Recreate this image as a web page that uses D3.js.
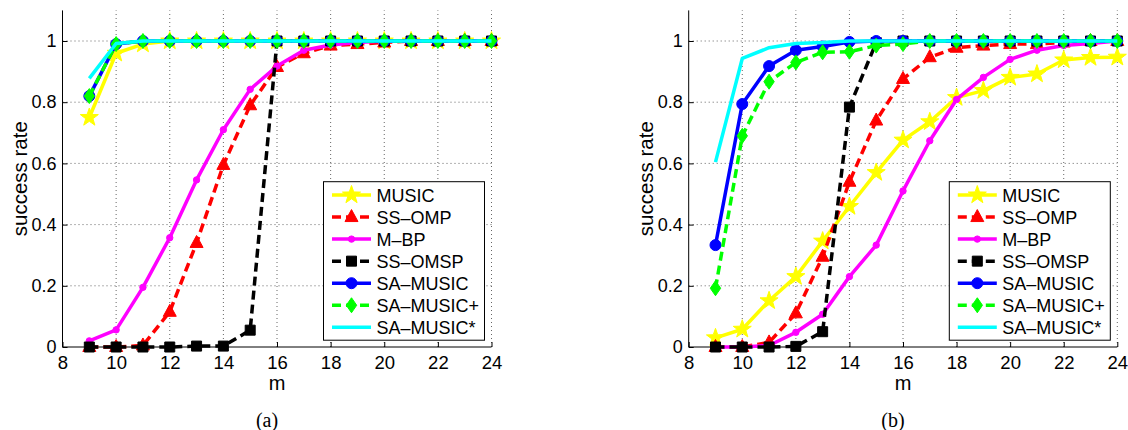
<!DOCTYPE html>
<html><head><meta charset="utf-8">
<script src="https://cdn.jsdelivr.net/npm/d3@7"></script>
<style>body{margin:0;background:#fff}svg{display:block}</style>
</head><body>
<svg id="chart" width="1128" height="430"></svg>
<script>
const mValues = [9,10,11,12,13,14,15,16,17,18,19,20,21,22,23,24];
const seriesNames = ["MUSIC","SS–OMP","M–BP","SS–OMSP","SA–MUSIC","SA–MUSIC+","SA–MUSIC*"];
const xTicks = [8,10,12,14,16,18,20,22,24];
const yTicks = [0,0.2,0.4,0.6,0.8,1];
const yTickLabels = ["0","0.2","0.4","0.6","0.8","1"];

// panel (a)
const aMUSIC   = [0.75,0.96,0.99,1,1,1,1,1,1,1,1,1,1,1,1,1];
const aSSOMP   = [0,0,0.005,0.115,0.34,0.595,0.79,0.915,0.96,0.985,0.99,0.995,1,1,1,1];
const aMBP     = [0.02,0.056,0.195,0.357,0.546,0.71,0.842,0.918,0.97,0.987,0.995,1,1,1,1,1];
const aSSOMSP  = [0,0,0,0,0.003,0.003,0.055,1,1,1,1,1,1,1,1,1];
const aSAMUSIC = [0.82,0.99,1,1,1,1,1,1,1,1,1,1,1,1,1,1];
const aSAMUSICp= [0.82,0.99,1,1,1,1,1,1,1,1,1,1,1,1,1,1];
const aSAMUSICs= [0.878,0.992,1,1,1,1,1,1,1,1,1,1,1,1,1,1];

// panel (b)
const bMUSIC   = [0.03,0.058,0.151,0.23,0.346,0.459,0.57,0.676,0.736,0.815,0.838,0.881,0.892,0.938,0.946,0.947];
const bSSOMP   = [0,0,0.015,0.11,0.295,0.54,0.74,0.876,0.947,0.978,0.985,0.99,0.99,0.995,1,1];
const bMBP     = [0,0,0.005,0.048,0.107,0.23,0.333,0.51,0.674,0.809,0.881,0.94,0.97,0.985,0.992,1];
const bSSOMSP  = [0,0,0,0.002,0.05,0.784,0.995,1,1,1,1,1,1,1,1,1];
const bSAMUSIC = [0.333,0.794,0.918,0.97,0.982,0.997,1,1,1,1,1,1,1,1,1,1];
const bSAMUSICp= [0.192,0.69,0.867,0.93,0.963,0.965,0.985,0.99,1,1,1,1,1,1,1,1];
const bSAMUSICs= [0.604,0.943,0.978,0.992,0.995,1,1,1,1,1,1,1,1,1,1,1];

const colors = ["#ffff00","#ff0000","#ff00ff","#000000","#0000ff","#00ff00","#00ffff"];
const dashes = [null,"9,5",null,"9,5",null,"9,5",null];
const markers = ["star","triangle","dot","square","circle","diamond",null];

function markerPath(type){
  if(type==="star"){
    const R=9.5, r=3.8; let p=[];
    for(let i=0;i<10;i++){const a=-Math.PI/2+i*Math.PI/5; const rr=i%2?r:R; p.push([rr*Math.cos(a), rr*Math.sin(a)]);}
    return "M"+p.map(d=>d.join(",")).join("L")+"Z";
  }
  if(type==="triangle") return "M0,-7.5L6.5,4.5L-6.5,4.5Z";
  if(type==="square") return "M-5,-5L5,-5L5,5L-5,5Z";
  if(type==="diamond") return "M0,-7.5L5.2,0L0,7.5L-5.2,0Z";
  if(type==="circle") return d3.symbol(d3.symbolCircle, Math.PI*5.5*5.5)();
  if(type==="dot") return d3.symbol(d3.symbolCircle, Math.PI*3.2*3.2)();
  return null;
}

const svg = d3.select("#chart");
const FONT = "'Liberation Sans', Arial, Helvetica, sans-serif";

function panel(x0, x1, data, caption){
  const x = d3.scaleLinear().domain([8,24]).range([x0,x1]);
  const y = d3.scaleLinear().domain([0,1.1]).range([347,10.4]);
  const g = svg.append("g");

  // grid
  g.append("g").selectAll("line").data(xTicks.filter(t=>t>8)).join("line")
    .attr("x1",d=>x(d)).attr("x2",d=>x(d)).attr("y1",y(0)).attr("y2",y(1.1))
    .attr("stroke","#666").attr("stroke-width",1).attr("stroke-dasharray","1,3");
  g.append("g").selectAll("line").data(yTicks.filter(t=>t>0)).join("line")
    .attr("x1",x(8)).attr("x2",x(24)).attr("y1",d=>y(d)).attr("y2",d=>y(d))
    .attr("stroke","#666").attr("stroke-width",1).attr("stroke-dasharray","1,3");

  // axes
  const xAxis = d3.axisBottom(x).tickValues(xTicks).tickSizeInner(-5).tickSizeOuter(0).tickPadding(9);
  const yAxis = d3.axisLeft(y).tickValues(yTicks).tickFormat((d,i)=>yTickLabels[i]).tickSizeInner(-5).tickSizeOuter(0).tickPadding(6);
  const gx = g.append("g").attr("transform",`translate(0,${y(0)})`).call(xAxis);
  const gy = g.append("g").attr("transform",`translate(${x0},0)`).call(yAxis);
  [gx,gy].forEach(a=>{
    a.select(".domain").attr("stroke","#000").attr("stroke-width",1);
    a.selectAll(".tick line").attr("stroke","#000");
    a.selectAll("text").attr("font-family",FONT).attr("font-size",18.5).attr("fill","#000");
  });
  gy.selectAll("text").attr("font-size",18);
  gy.select(".domain").attr("d",`M0,${y(1.1)}V${y(0)}`);
  gx.select(".domain").attr("d",`M${x0},0H${x1}`);

  // labels
  g.append("text").attr("x",(x0+x1)/2).attr("y",390).attr("text-anchor","middle")
    .attr("font-family",FONT).attr("font-size",20).text("m");
  g.append("text").attr("transform",`translate(${x0-36},${(y(0)+y(1.1))/2}) rotate(-90)`)
    .attr("text-anchor","middle").attr("font-family",FONT).attr("font-size",20.5).text("success rate");
  g.append("text").attr("x",(x0+x1)/2-10).attr("y",427).attr("text-anchor","middle")
    .attr("font-family","'Liberation Serif', 'Times New Roman', serif").attr("font-size",20).text(caption);

  // series
  const line = d3.line().x((d,i)=>x(mValues[i])).y(d=>y(d));
  data.forEach((vals,k)=>{
    g.append("path").attr("d",line(vals)).attr("fill","none").attr("stroke",colors[k])
      .attr("stroke-width",3.5).attr("stroke-dasharray",dashes[k]).attr("stroke-linejoin","round");
    if(markers[k]){
      const mp = markerPath(markers[k]);
      g.append("g").selectAll("path").data(vals).join("path")
        .attr("d",mp).attr("transform",(d,i)=>`translate(${x(mValues[i])},${y(d)})`)
        .attr("fill",colors[k]).attr("stroke",colors[k]).attr("stroke-width",1);
    }
  });

  // legend
  const lx = x1-168, ly = 181.7, lw = 161, lh = 158.5;
  const lg = g.append("g");
  lg.append("rect").attr("x",lx).attr("y",ly).attr("width",lw).attr("height",lh)
    .attr("fill","#fff").attr("stroke","#000").attr("stroke-width",1);
  seriesNames.forEach((name,k)=>{
    const cy = 195 + k*22.05;
    lg.append("line").attr("x1",lx+8.5).attr("x2",lx+47.5).attr("y1",cy).attr("y2",cy)
      .attr("stroke",colors[k]).attr("stroke-width",3.5).attr("stroke-dasharray",dashes[k]);
    if(markers[k]){
      lg.append("path").attr("d",markerPath(markers[k])).attr("transform",`translate(${lx+28},${cy})`)
        .attr("fill",colors[k]).attr("stroke",colors[k]);
    }
    lg.append("text").attr("x",lx+53).attr("y",cy+6.5).attr("font-family",FONT).attr("font-size",18).text(name);
  });
}

panel(62.5, 491.5, [aMUSIC,aSSOMP,aMBP,aSSOMSP,aSAMUSIC,aSAMUSICp,aSAMUSICs], "(a)");
panel(688.7, 1117.3, [bMUSIC,bSSOMP,bMBP,bSSOMSP,bSAMUSIC,bSAMUSICp,bSAMUSICs], "(b)");
</script>
</body></html>
